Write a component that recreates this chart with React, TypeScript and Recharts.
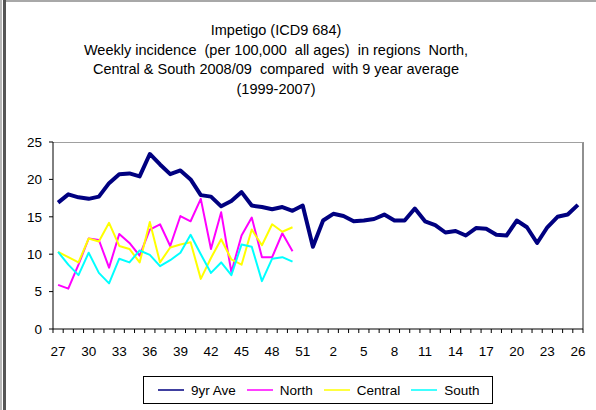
import { Line, LineChart, XAxis, YAxis } from "recharts";

// weeks 27..52 of 2008 then 1..26 of 2009
const weeks = [
  27, 28, 29, 30, 31, 32, 33, 34, 35, 36, 37, 38, 39, 40, 41, 42, 43, 44, 45, 46, 47, 48, 49, 50, 51, 52,
  1, 2, 3, 4, 5, 6, 7, 8, 9, 10, 11, 12, 13, 14, 15, 16, 17, 18, 19, 20, 21, 22, 23, 24, 25, 26,
];

const avg9yr = [
  16.9, 18.0, 17.6, 17.4, 17.7, 19.5, 20.7, 20.8, 20.4, 23.4, 22.0, 20.7, 21.2, 20.0, 17.9, 17.7, 16.4,
  17.1, 18.3, 16.5, 16.3, 16.0, 16.3, 15.8, 16.5, 11.0, 14.5, 15.4, 15.1, 14.4, 14.5, 14.7, 15.3, 14.5,
  14.5, 16.1, 14.4, 13.9, 12.9, 13.1, 12.5, 13.5, 13.4, 12.6, 12.5, 14.5, 13.6, 11.5, 13.6, 15.0, 15.3, 16.6,
];

const north = [
  5.9, 5.4, 8.6, 12.1, 11.9, 8.2, 12.7, 11.5, 9.8, 13.3, 14.0, 11.1, 15.1, 14.4, 17.4, 10.7, 15.6, 7.6,
  12.5, 14.9, 9.6, 9.6, 12.8, 10.4,
];

const central = [
  10.3, 9.6, 8.9, 12.1, 11.7, 14.2, 11.1, 10.7, 8.9, 14.3, 8.9, 10.9, 11.3, 11.6, 6.7, 9.5, 12.0, 9.3,
  8.6, 13.3, 11.2, 14.0, 13.0, 13.6,
];

const south = [
  10.3, 8.6, 7.2, 10.2, 7.5, 6.1, 9.4, 8.9, 10.5, 9.9, 8.4, 9.2, 10.2, 12.6, 10.0, 7.5, 8.9, 7.2, 11.3,
  11.0, 6.4, 9.4, 9.6, 9.0,
];

const yTicks = [0, 5, 10, 15, 20, 25];

const titleLines = [
  "Impetigo (ICD9 684)",
  "Weekly incidence  (per 100,000  all ages)  in regions  North,",
  "Central & South 2008/09  compared  with 9 year average",
  "(1999-2007)",
];

const series = [
  { key: "avg", name: "9yr Ave", color: "#000080", width: 4 },
  { key: "north", name: "North", color: "#ff00ff", width: 2 },
  { key: "central", name: "Central", color: "#ffff00", width: 2 },
  { key: "south", name: "South", color: "#00ffff", width: 2 },
];

const data = weeks.map((w, i) => ({
  week: String(w),
  avg: avg9yr[i],
  north: north[i],
  central: central[i],
  south: south[i],
}));

const FONT = '"Liberation Sans", Arial, sans-serif';
const PLOT_LEFT = 53;
const PLOT_RIGHT = 583;
const PLOT_TOP = 142;
const PLOT_BOTTOM = 329;
const STEP = (PLOT_RIGHT - PLOT_LEFT) / weeks.length;

function WeekTick(props: any) {
  const { x, y, payload, index } = props;
  const half = STEP / 2;
  return (
    <g>
      <line x1={x - half} x2={x - half} y1={y} y2={y + 4} stroke="#000" />
      {index === weeks.length - 1 && (
        <line x1={x + half} x2={x + half} y1={y} y2={y + 4} stroke="#000" />
      )}
      {index % 3 === 0 && (
        <text x={x} y={y + 27} textAnchor="middle" fontSize={13.5} fill="#000" fontFamily={FONT}>
          {payload.value}
        </text>
      )}
    </g>
  );
}

export default function App() {
  return (
    <div
      style={{
        position: "absolute",
        left: 0,
        top: 0,
        width: 596,
        height: 410,
        background: "#fff",
        fontFamily: FONT,
        overflow: "hidden",
      }}
    >
      {/* chart area frame */}
      <div style={{ position: "absolute", left: 0, top: 0, width: 2, height: 410, background: "#b8b8b8" }} />
      <div style={{ position: "absolute", left: 3, top: 0, width: 3, height: 410, background: "#555" }} />
      <div style={{ position: "absolute", left: 6, top: 0, width: 590, height: 2, background: "#a8a8a8" }} />

      <div
        style={{
          position: "absolute",
          left: 0,
          top: 21,
          width: 552,
          textAlign: "center",
          fontSize: 14.5,
          lineHeight: "19.7px",
          whiteSpace: "pre",
          color: "#000",
        }}
      >
        {titleLines.map((t) => (
          <div key={t}>{t}</div>
        ))}
      </div>

      {/* plot area border */}
      <div
        style={{
          position: "absolute",
          left: PLOT_LEFT,
          top: PLOT_TOP,
          width: PLOT_RIGHT - PLOT_LEFT + 1,
          height: PLOT_BOTTOM - PLOT_TOP,
          borderTop: "1px solid #a0a0a0",
          borderRight: "2px solid #909090",
          boxSizing: "border-box",
        }}
      />

      <div style={{ position: "absolute", left: 0, top: 0 }}>
        <LineChart
          width={596}
          height={410}
          data={data}
          margin={{ top: PLOT_TOP, right: 596 - PLOT_RIGHT, left: 0, bottom: 410 - PLOT_BOTTOM - 30 }}
        >
          <XAxis
            dataKey="week"
            interval={0}
            height={30}
            padding={{ left: STEP / 2, right: STEP / 2 }}
            tickLine={false}
            tickSize={0}
            tickMargin={0}
            axisLine={{ stroke: "#000" }}
            tick={<WeekTick />}
          />
          <YAxis
            width={PLOT_LEFT}
            domain={[0, 25]}
            ticks={yTicks}
            interval={0}
            tickSize={4}
            tickMargin={7}
            axisLine={{ stroke: "#000" }}
            tickLine={{ stroke: "#000" }}
            tick={{ fontSize: 13.5, fill: "#000", fontFamily: FONT }}
          />
          {series.map((s) => (
            <Line
              key={s.key}
              type="linear"
              dataKey={s.key}
              name={s.name}
              stroke={s.color}
              strokeWidth={s.width}
              strokeLinejoin="round"
              dot={false}
              activeDot={false}
              isAnimationActive={false}
            />
          ))}
        </LineChart>
      </div>

      {/* legend */}
      <div
        style={{
          position: "absolute",
          left: 143,
          top: 376,
          width: 350,
          height: 28,
          border: "1px solid #000",
          boxSizing: "border-box",
          display: "flex",
          alignItems: "center",
          paddingLeft: 14,
          gap: 11,
          fontSize: 13.5,
        }}
      >
        {series.map((s) => (
          <div key={s.key} style={{ display: "flex", alignItems: "center", gap: 7 }}>
            <svg width={26} height={4}>
              <line x1={0} x2={26} y1={2} y2={2} stroke={s.color} strokeWidth={1.5} />
            </svg>
            <span>{s.name}</span>
          </div>
        ))}
      </div>
    </div>
  );
}
